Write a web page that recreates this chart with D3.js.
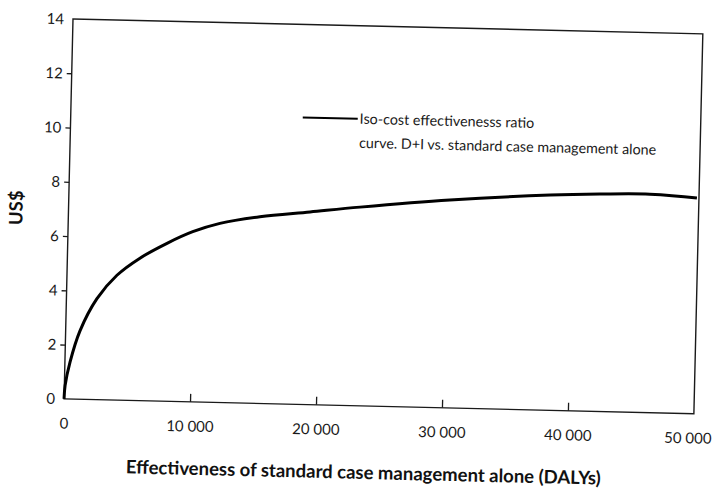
<!DOCTYPE html>
<html>
<head>
<meta charset="utf-8">
<script src="https://cdn.jsdelivr.net/npm/d3@7"></script>
<style>
  body { margin: 0; background: #fff; }
  svg { display: block; }
  .tick text { font-family: Lato, "Open Sans", sans-serif; font-size: 15px; fill: #1a1a1a; }
  .tick line { stroke: #1a1a1a; stroke-width: 1.3; }
  .legend-text { font-family: Lato, "Open Sans", sans-serif; font-size: 14.3px; fill: #1a1a1a; }
  .axis-title { font-family: Lato, "Open Sans", sans-serif; font-size: 18.5px; font-weight: bold; fill: #111; }
</style>
</head>
<body>
<div id="chart"></div>
<script>
// tick values
const xTicks = [0, 10000, 20000, 30000, 40000, 50000];
const yTicks = [0, 2, 4, 6, 8, 10, 12, 14];

// iso-cost effectiveness ratio curve
const curveX = [0, 60, 405, 1137, 2423, 3966, 5760, 7878, 9900, 12040, 15200, 19170, 23120, 30240, 38180, 42140, 46100, 49840];
const curveY = [0, 0.5, 1.36, 2.52, 3.72, 4.60, 5.25, 5.82, 6.27, 6.60, 6.88, 7.10, 7.32, 7.66, 7.93, 8.01, 8.05, 7.95];

const legendLines = ['Iso-cost effectivenesss ratio', 'curve. D+I vs. standard case management alone'];

const size = { width: 715, height: 493 };
const margins = { top: 19, left: 73 };
const plot = { width: 630, height: 380 };
// the scanned figure is tilted slightly clockwise
const tilt = 1.35;

const svg = d3.select('#chart')
  .append('svg')
  .attr('width', size.width)
  .attr('height', size.height);

svg.append('rect')
  .attr('width', size.width)
  .attr('height', size.height)
  .attr('fill', '#fff');

const g = svg.append('g')
  .attr('transform', `translate(${margins.left},${margins.top}) rotate(${tilt})`);

const x = d3.scaleLinear().domain([0, 50000]).range([0, plot.width]);
const y = d3.scaleLinear().domain([0, 14]).range([plot.height, 0]);

const locale = d3.formatLocale({ decimal: '.', thousands: ' ', grouping: [3], currency: ['$', ''] });
const fmt = locale.format(',');

// x axis, ticks pointing inwards
const xAxis = g.append('g')
  .attr('transform', `translate(0,${plot.height})`)
  .call(d3.axisBottom(x).tickValues(xTicks).tickFormat(fmt).tickSize(-8).tickSizeOuter(0).tickPadding(19));
xAxis.select('.domain').remove();
xAxis.selectAll('.tick').filter(d => d === 0 || d === 50000).select('line').remove();
// last label sits a little inside the frame edge
xAxis.selectAll('.tick').filter(d => d === 50000).select('text').attr('dx', -6);

// y axis, short ticks outwards
const yAxis = g.append('g')
  .call(d3.axisLeft(y).tickValues(yTicks).tickSize(5).tickSizeOuter(0).tickPadding(4));
yAxis.select('.domain').remove();
yAxis.selectAll('.tick').filter(d => d === 0 || d === 14).select('line').remove();

// frame
g.append('rect')
  .attr('width', plot.width)
  .attr('height', plot.height)
  .attr('fill', 'none')
  .attr('stroke', '#1a1a1a')
  .attr('stroke-width', 1.4);

// curve
const line = d3.line()
  .x(d => x(d[0]))
  .y(d => y(d[1]))
  .curve(d3.curveCatmullRom.alpha(0.5));

g.append('path')
  .datum(d3.zip(curveX, curveY))
  .attr('d', line)
  .attr('fill', 'none')
  .attr('stroke', '#000')
  .attr('stroke-width', 3)
  .attr('stroke-linejoin', 'round');

// legend
const legend = g.append('g').attr('transform', 'translate(232,93)');
legend.append('line')
  .attr('x1', 0).attr('x2', 55)
  .attr('y1', 0).attr('y2', 0)
  .attr('stroke', '#000')
  .attr('stroke-width', 2);
legend.selectAll('text')
  .data(legendLines)
  .join('text')
  .attr('class', 'legend-text')
  .attr('x', 57)
  .attr('y', (d, i) => 5 + i * 24)
  .text(d => d);

// axis titles
g.append('text')
  .attr('class', 'axis-title')
  .attr('text-anchor', 'middle')
  .attr('x', 301)
  .attr('y', plot.height + 73)
  .text('Effectiveness of standard case management alone (DALYs)');

g.append('text')
  .attr('class', 'axis-title')
  .attr('text-anchor', 'middle')
  .attr('transform', `translate(-46,${y(7)}) rotate(-90)`)
  .text('US$');
</script>
</body>
</html>
